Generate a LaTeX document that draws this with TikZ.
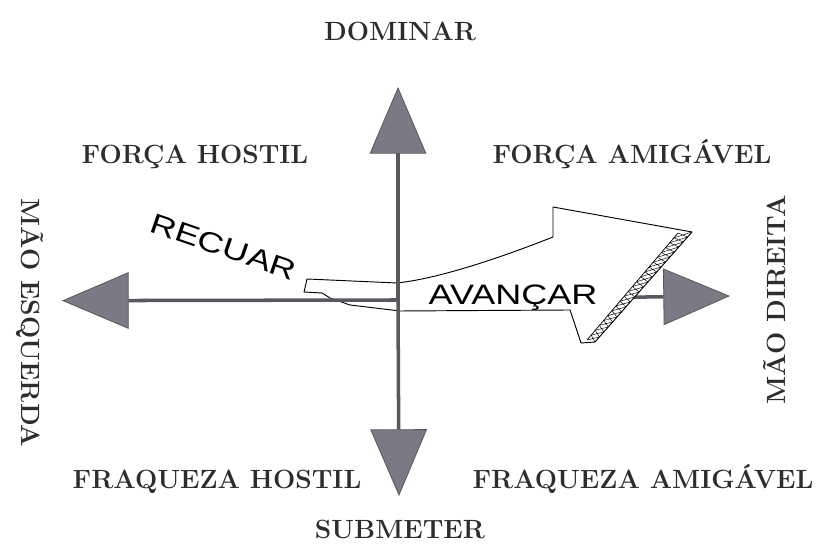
\documentclass[tikz,border=0pt]{standalone}
\usepackage{fontspec}
\newfontfamily\setafont[FakeStretch=1.28]{Liberation Sans}
\usetikzlibrary{arrows.meta,calc}
\definecolor{eixocor}{RGB}{88,88,94}
\definecolor{pontacor}{RGB}{122,122,132}
\definecolor{textocor}{RGB}{45,45,45}
\begin{document}
\begin{tikzpicture}
	[eixo/.style={line width=3pt,draw=eixocor,-{Triangle[length=2cm,width=1.7cm,line width=0.7pt,fill=pontacor]}},
	campo/.style={font=\fontsize{22.5}{26}\selectfont\bfseries,text=textocor,inner sep=0pt},
	movimento/.style={font=\setafont\fontsize{24}{28}\selectfont,inner sep=0pt},
	seta/.style={draw=black,line width=0.8pt,fill=white,line join=round}]
	\useasboundingbox (0,0) rectangle (25.11,16.32);
	\coordinate (o) at (11.94,7.32);
	\coordinate (cima) at (11.94,13.71);
	\coordinate (baixo) at (11.97,1.44);
	\coordinate (esq) at (1.86,7.3);
	\coordinate (dir) at (21.9,7.44);
	% face da seta larga
	\coordinate (pe) at (20.76,9.36);
	\coordinate (pi) at (20.34,9.33);
	\coordinate (qe) at (17.85,6.06);
	\coordinate (qi) at (17.61,6.12);
	\draw[eixo](o)--(dir);
	\draw[seta](9.21,7.95)--(11.91,7.83) .. controls (13.3,7.98) and (15.3,8.7) .. (16.59,9.21)
		--(16.59,10.11)--(pe)--(qe)--(17.43,6.03)--(17.1,7.02)--(12.0,6.99)--(10.5,7.17)
		--(9.9,7.38)--(9.66,7.53)--(9.12,7.56)--cycle;
	\draw[line width=0.6pt](pi)--(qi);
	\foreach \i [evaluate=\i as \a using \i/22, evaluate=\i as \b using (\i+1)/22] in {0,...,21}
		\draw[line width=0.4pt]($(pe)!\a!(qe)$)--($(pi)!\b!(qi)$) ($(pi)!\a!(qi)$)--($(pe)!\b!(qe)$);
	\draw[eixo](o)--(esq);
	\draw[eixo](o)--(cima);
	\draw[eixo](o)--(baixo);
	\node[campo,name=dom,anchor=base] at (12.0,15.09) {DOMINAR};
	\node[campo,name=fh,anchor=base] at (5.85,11.4) {FORÇA HOSTIL};
	\node[campo,name=fa,anchor=base] at (18.96,11.4) {FORÇA AMIGÁVEL};
	\node[campo,name=me,rotate=-90] at (0.9,6.63) {MÃO ESQUERDA};
	\node[campo,name=md,rotate=90] at (23.25,7.32) {MÃO DIREITA};
	\node[campo,name=qh,anchor=base] at (6.51,1.65) {FRAQUEZA HOSTIL};
	\node[campo,name=qa,anchor=base] at (19.29,1.65) {FRAQUEZA AMIGÁVEL};
	\node[campo,name=sub,anchor=base] at (12.0,0.15) {SUBMETER};
	\node[movimento,name=av,anchor=base] at (15.39,7.17) {AVANÇAR};
	\node[rotate=-19,movimento,name=rec] at (6.71,8.92) {RECUAR};
\end{tikzpicture}
\end{document}
